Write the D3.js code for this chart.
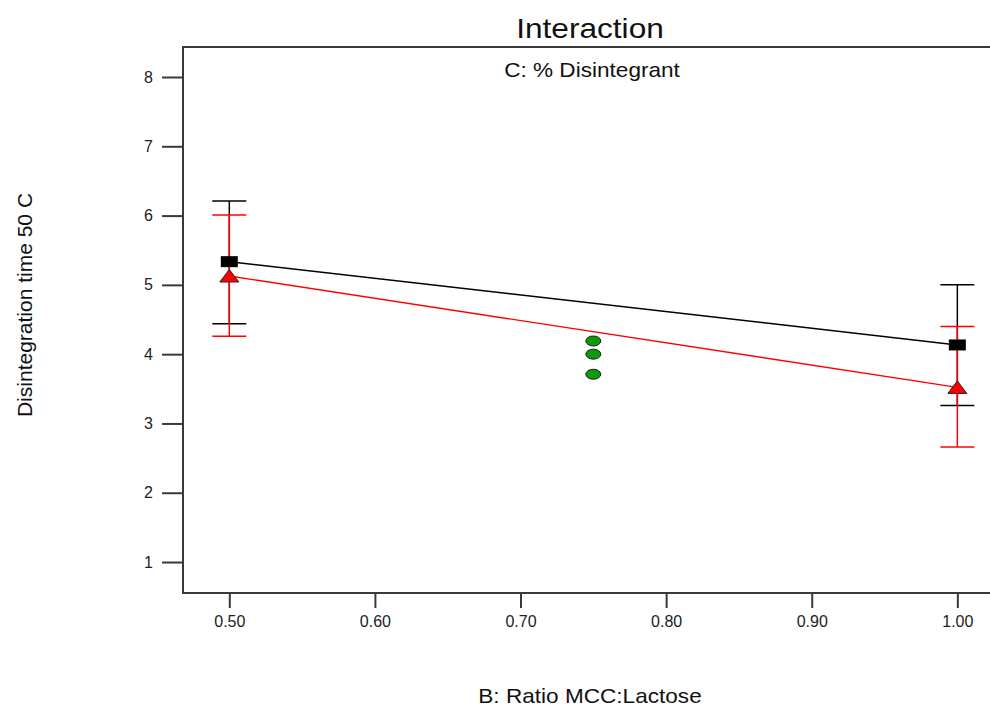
<!DOCTYPE html>
<html>
<head>
<meta charset="utf-8">
<script src="https://cdn.jsdelivr.net/npm/d3@7"></script>
<style>
  body { margin: 0; background: #fff; }
  svg { display: block; font-family: "Liberation Sans", Arial, sans-serif; }
</style>
</head>
<body>
<div class="chart"></div>
<script>
// data
var ratio = [0.50, 1.00];
var lowMean = [5.335, 4.133];     // black squares
var lowBarLow = [4.44, 3.26];
var lowBarHigh = [6.21, 5.00];
var highMean = [5.128, 3.52];     // red triangles
var highBarLow = [4.258, 2.66];
var highBarHigh = [6.01, 4.40];
var centerX = 0.75;
var centerPoints = [4.19, 4.00, 3.71];
var xTicks = [0.5, 0.6, 0.7, 0.8, 0.9, 1.0];
var yTicks = [1, 2, 3, 4, 5, 6, 7, 8];

var svgx = 990;
var svgy = 707;
var box = {left: 183, top: 47, right: 1000, bottom: 593};

var svg = d3.select(".chart").append("svg")
    .attr("width", svgx)
    .attr("height", svgy);

var xscale = d3.scaleLinear().domain([0.4682, 1.0293]).range([box.left, box.right]);
var yscale = d3.scaleLinear().domain([0.553, 8.433]).range([box.bottom, box.top]);

// frame
svg.append("rect")
    .attr("x", box.left)
    .attr("y", box.top)
    .attr("width", box.right - box.left)
    .attr("height", box.bottom - box.top)
    .attr("fill", "none")
    .attr("stroke", "#3a3a3a")
    .attr("stroke-width", 2);

// axes
var xaxis = d3.axisBottom(xscale).tickValues(xTicks).tickSize(15).tickPadding(8)
    .tickFormat(d3.format(".2f"));
var yaxis = d3.axisLeft(yscale).tickValues(yTicks).tickSize(21).tickPadding(9)
    .tickFormat(d3.format("d"));

var gx = svg.append("g")
    .attr("transform", "translate(0," + box.bottom + ")")
    .call(xaxis);
var gy = svg.append("g")
    .attr("transform", "translate(" + box.left + ",0)")
    .call(yaxis);

[gx, gy].forEach(function(g) {
    g.attr("font-size", null).attr("font-family", null);
    g.select(".domain").remove();
    g.selectAll(".tick line").attr("stroke", "#3a3a3a").attr("stroke-width", 2);
    g.selectAll(".tick text")
        .attr("fill", "#222")
        .style("font-size", "16px")
        .style("font-family", "Liberation Sans, Arial, sans-serif");
});

// error bars
function errorBars(lo, hi, color) {
    var g = svg.append("g").attr("stroke", color).attr("stroke-width", 1.5);
    ratio.forEach(function(r, i) {
        var cx = xscale(r);
        g.append("line")
            .attr("x1", cx).attr("x2", cx)
            .attr("y1", yscale(lo[i])).attr("y2", yscale(hi[i]));
        [lo[i], hi[i]].forEach(function(v) {
            g.append("line")
                .attr("x1", cx - 17).attr("x2", cx + 17)
                .attr("y1", yscale(v)).attr("y2", yscale(v));
        });
    });
}
errorBars(lowBarLow, lowBarHigh, "#000");
errorBars(highBarLow, highBarHigh, "#ff0000");

// lines
var line = d3.line()
    .x(function(d) { return xscale(d[0]); })
    .y(function(d) { return yscale(d[1]); });

svg.append("path")
    .datum(d3.zip(ratio, lowMean))
    .attr("d", line)
    .attr("fill", "none")
    .attr("stroke", "#000")
    .attr("stroke-width", 1.5);

svg.append("path")
    .datum(d3.zip(ratio, highMean))
    .attr("d", line)
    .attr("fill", "none")
    .attr("stroke", "#ff0000")
    .attr("stroke-width", 1.4);

// markers
svg.selectAll(".sq")
    .data(d3.zip(ratio, lowMean))
    .enter()
    .append("rect")
    .attr("x", function(d) { return xscale(d[0]) - 8.5; })
    .attr("y", function(d) { return yscale(d[1]) - 5.5; })
    .attr("width", 17)
    .attr("height", 11)
    .attr("fill", "#000");

svg.selectAll(".tri")
    .data(d3.zip(ratio, highMean))
    .enter()
    .append("path")
    .attr("transform", function(d) {
        return "translate(" + xscale(d[0]) + "," + yscale(d[1]) + ")";
    })
    .attr("d", "M0,-6.5L9.5,6L-9.5,6Z")
    .attr("fill", "#ff0000")
    .attr("stroke", "#222")
    .attr("stroke-width", 1);

svg.selectAll(".ctr")
    .data(centerPoints)
    .enter()
    .append("ellipse")
    .attr("cx", xscale(centerX))
    .attr("cy", function(d) { return yscale(d); })
    .attr("rx", 7.5)
    .attr("ry", 5)
    .attr("fill", "#0a9a0a")
    .attr("stroke", "#1a1a1a")
    .attr("stroke-width", 1);

// titles
function label(txt, x, y, size, rot) {
    svg.append("text")
        .attr("transform", "translate(" + x + "," + y + ")" + (rot ? " rotate(-90)" : " scale(1.13,1)"))
        .attr("text-anchor", "middle")
        .attr("font-size", size + "px")
        .attr("fill", "#111")
        .text(txt);
}
label("Interaction", 590, 38, 28);
label("C: % Disintegrant", 592, 77, 20);
label("B: Ratio MCC:Lactose", 590, 703, 20);
label("Disintegration time 50 C", 32, 305, 21, true);
</script>
</body>
</html>
